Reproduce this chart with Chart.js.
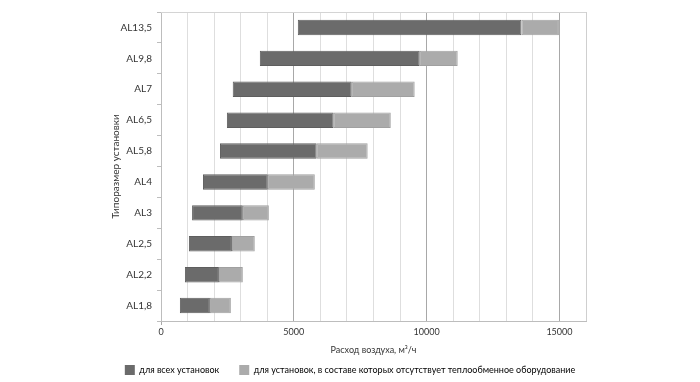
<!DOCTYPE html>
<html>
<head>
<meta charset="utf-8">
<script src="https://cdn.jsdelivr.net/npm/chart.js@4/dist/chart.umd.min.js"></script>
<style>
  html, body { margin: 0; padding: 0; background: #ffffff; }
  #wrap { position: relative; width: 700px; height: 382px; }
</style>
</head>
<body>
<div id="wrap"><canvas id="c" width="700" height="382"></canvas></div>
<script>
const categories = ['AL13,5', 'AL9,8', 'AL7', 'AL6,5', 'AL5,8', 'AL4', 'AL3', 'AL2,5', 'AL2,2', 'AL1,8'];
const startValues = [5150, 3720, 2700, 2480, 2220, 1580, 1170, 1050, 900, 710];
const allUnitsEnd = [13570, 9740, 7180, 6500, 5860, 4020, 3080, 2670, 2180, 1840];
const noHeatExchEnd = [14980, 11170, 9550, 8650, 7780, 5790, 4060, 3530, 3080, 2630];
const seriesNames = ['для всех установок', 'для установок, в составе которых отсутствует теплообменное оборудование'];
const xTickLabels = [0, 5000, 10000, 15000];

const darkData = categories.map((c, i) => [startValues[i], allUnitsEnd[i]]);
const lightData = categories.map((c, i) => [allUnitsEnd[i], noHeatExchEnd[i]]);

const FONT = 'Lato, "DejaVu Sans", sans-serif';

const frame = {
  id: 'frame',
  afterDraw(chart) {
    const a = chart.chartArea, ctx = chart.ctx;
    ctx.save();
    ctx.strokeStyle = '#d4d4d4';
    ctx.lineWidth = 1;
    ctx.beginPath();
    ctx.moveTo(a.left, a.top + 0.5);
    ctx.lineTo(a.right, a.top + 0.5);
    ctx.stroke();
    ctx.restore();
  }
};

new Chart(document.getElementById('c'), {
  type: 'bar',
  data: {
    labels: categories,
    datasets: [
      {
        label: seriesNames[0],
        data: darkData,
        backgroundColor: '#6b6b6b',
        borderColor: '#5e5e5e',
        borderWidth: 1,
        borderSkipped: false,
        grouped: false,
        barPercentage: 0.5,
        categoryPercentage: 1,
        yAxisID: 'y'
      },
      {
        label: seriesNames[1],
        data: lightData,
        backgroundColor: '#ababab',
        borderColor: '#a0a0a0',
        borderWidth: 1,
        borderSkipped: false,
        grouped: false,
        barPercentage: 0.5,
        categoryPercentage: 1,
        yAxisID: 'y'
      }
    ]
  },
  options: {
    indexAxis: 'y',
    responsive: false,
    animation: false,
    devicePixelRatio: 1,
    layout: { padding: { left: 0, right: 0, top: 12, bottom: -3 } },
    plugins: {
      tooltip: { enabled: false },
      legend: {
        position: 'bottom',
        labels: {
          boxWidth: 10,
          boxHeight: 10,
          padding: 20,
          color: '#333333',
          font: { family: FONT, size: 9 },
          generateLabels(chart) {
            return chart.data.datasets.map((d, i) => ({
              text: d.label,
              fillStyle: d.backgroundColor,
              strokeStyle: d.backgroundColor,
              lineWidth: 0,
              datasetIndex: i
            }));
          }
        }
      }
    },
    scales: {
      x: {
        min: 0,
        max: 16000,
        afterBuildTicks(scale) {
          const t = [];
          for (let v = 0; v <= 16000; v += 1000) t.push({ value: v });
          scale.ticks = t;
        },
        afterFit(scale) { scale.height = 24; },
        ticks: {
          autoSkip: false,
          maxRotation: 0,
          color: '#333333',
          font: { family: FONT, size: 9 },
          padding: 2,
          callback(v) { return xTickLabels.includes(v) ? String(v) : ''; }
        },
        grid: {
          color(ctx) {
            const v = ctx.tick && ctx.tick.value;
            if (v === 16000) return '#cfcfcf';
            return (v % 5000 === 0) ? '#a8a8a8' : '#dedede';
          },
          lineWidth: 1,
          drawTicks: true,
          tickLength: 4,
          tickColor(ctx) { return (ctx.tick && ctx.tick.value === 0) ? '#a8a8a8' : 'rgba(0,0,0,0)'; }
        },
        border: { display: true, color: '#bdbdbd' },
        title: {
          display: true,
          text: 'Расход воздуха, м³/ч',
          color: '#333333',
          font: { family: FONT, size: 9 },
          padding: { top: 0, bottom: -10 }
        }
      },
      y: {
        position: 'left',
        afterFit(scale) { scale.width = 161; },
        ticks: {
          color: '#333333',
          font: { family: FONT, size: 10 },
          padding: 5
        },
        grid: {
          offset: true,
          drawOnChartArea: false,
          drawTicks: true,
          tickLength: 4,
          color: '#bdbdbd'
        },
        border: { display: true, color: '#bdbdbd' },
        title: {
          display: true,
          text: 'Типоразмер установки',
          color: '#333333',
          font: { family: FONT, size: 10 },
          padding: { top: 110, bottom: 0 }
        }
      },
      yr: {
        position: 'right',
        type: 'category',
        labels: categories,
        afterFit(scale) { scale.width = 114; },
        ticks: { display: false },
        grid: { display: false, drawOnChartArea: false },
        border: { display: false }
      }
    }
  },
  plugins: [frame]
});
</script>
</body>
</html>
